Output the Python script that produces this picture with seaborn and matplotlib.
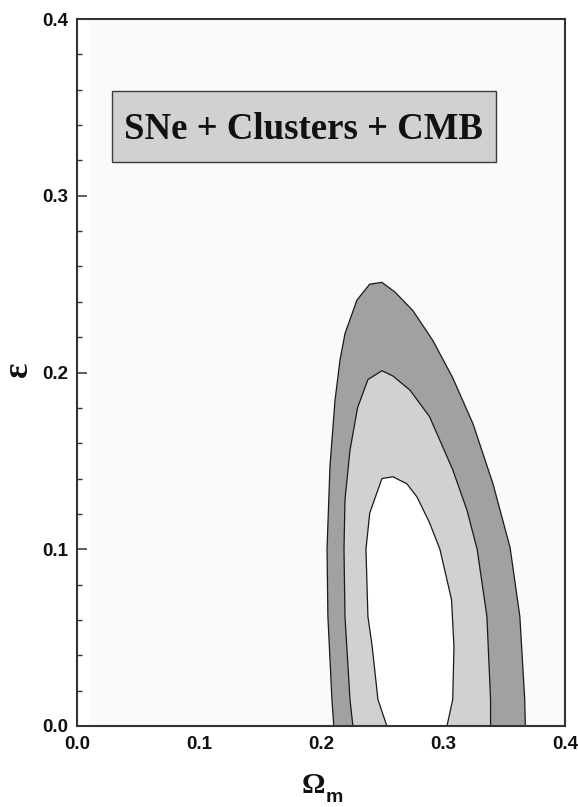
import numpy as np
import pandas as pd
import seaborn as sns
import matplotlib.pyplot as plt
from matplotlib.ticker import MultipleLocator
from matplotlib.patches import Rectangle

# confidence contours (Omega_m, epsilon)
outer_x = [0.2105, 0.209, 0.2057, 0.205, 0.2074, 0.2115, 0.2156, 0.2197, 0.2295, 0.240, 0.250,
           0.2607, 0.2754, 0.2918, 0.308, 0.3246, 0.341, 0.355, 0.363, 0.367, 0.3675]
outer_y = [0.0, 0.015, 0.062, 0.100, 0.147, 0.184, 0.207, 0.222, 0.241, 0.250, 0.251,
           0.2455, 0.235, 0.218, 0.197, 0.171, 0.137, 0.101, 0.062, 0.015, 0.0]

mid_x = [0.2262, 0.2238, 0.2197, 0.2189, 0.2197, 0.2238, 0.230, 0.2385, 0.250, 0.259,
         0.273, 0.289, 0.308, 0.3197, 0.328, 0.336, 0.339, 0.339]
mid_y = [0.0, 0.015, 0.062, 0.100, 0.128, 0.156, 0.180, 0.196, 0.201, 0.198,
         0.190, 0.175, 0.145, 0.122, 0.100, 0.062, 0.015, 0.0]

inner_x = [0.254, 0.2467, 0.242, 0.2385, 0.2369, 0.240, 0.250, 0.259, 0.2705, 0.2787,
           0.289, 0.2975, 0.307, 0.309, 0.308, 0.3033]
inner_y = [0.0, 0.015, 0.045, 0.062, 0.100, 0.1205, 0.140, 0.141, 0.137, 0.1296,
           0.115, 0.100, 0.0715, 0.045, 0.015, 0.0]

ticks = [0.0, 0.1, 0.2, 0.3, 0.4]
title = 'SNe + Clusters + CMB'

sns.set_style('ticks')
plt.rcParams['font.family'] = ['Liberation Sans', 'DejaVu Sans']

fig = plt.figure(figsize=(5.78, 8.07), dpi=100)
ax = fig.add_axes([0.133, 0.1004, 0.8445, 0.876])
ax.set_facecolor('white')

# grid extent of the likelihood map
ax.axvspan(0.01, 0.4, color='#fafafa', lw=0, zorder=1)

regions = [(outer_x, outer_y, '#a0a1a3'),
           (mid_x, mid_y, '#d0d1d3'),
           (inner_x, inner_y, '#ffffff')]
for xs, ys, c in regions:
    ax.fill(xs, ys, color=c, lw=0, zorder=2)
    sns.lineplot(x=xs, y=ys, sort=False, estimator=None, color='#1a1a1a',
                 lw=0.9, ax=ax, zorder=3)

ax.set_xlim(0, 0.4)
ax.set_ylim(0, 0.4)
ax.set_xticks(ticks)
ax.set_yticks(ticks)
ax.set_xticklabels(['%.1f' % t for t in ticks])
ax.set_yticklabels(['%.1f' % t for t in ticks])
ax.xaxis.set_minor_locator(MultipleLocator(0.02))
ax.yaxis.set_minor_locator(MultipleLocator(0.02))
ax.tick_params(which='both', direction='in', top=True, right=True, color='#333333')
ax.tick_params(which='major', length=7, width=1.1)
ax.tick_params(which='minor', length=3.6, width=1.0)
ax.tick_params(axis='x', pad=7.5)
ax.tick_params(axis='y', pad=6)
for lab in ax.get_xticklabels() + ax.get_yticklabels():
    lab.set_fontsize(13.5)
    lab.set_fontweight('bold')
    lab.set_color('#111111')
for sp in ax.spines.values():
    sp.set_linewidth(1.5)
    sp.set_color('#333333')
    sp.set_zorder(5)

# label box
ax.add_patch(Rectangle((0.072, 0.798), 0.787, 0.100, transform=ax.transAxes,
                       facecolor='#d0d1d3', edgecolor='#3a3a3a', lw=1.0, zorder=4))
ax.text(0.465, 0.831, title, transform=ax.transAxes, ha='center', va='baseline',
        family='Liberation Serif', fontweight='bold', fontsize=26.5, color='#111111', zorder=6)

# axis labels
fig.text(313 / 578, 14 / 807, 'Ω', ha='center', va='baseline',
         family='Liberation Serif', fontweight='bold', fontsize=21, color='#111111')
fig.text(326 / 578, 5 / 807, 'm', ha='left', va='baseline',
         family='Liberation Sans', fontweight='bold', fontsize=14, color='#111111')
fig.text(19 / 578, (807 - 369) / 807, 'ε', rotation=90, ha='center', va='center',
         family='Liberation Serif', fontweight='bold', fontsize=26, color='#111111')

fig.savefig('out.png', dpi=100)
